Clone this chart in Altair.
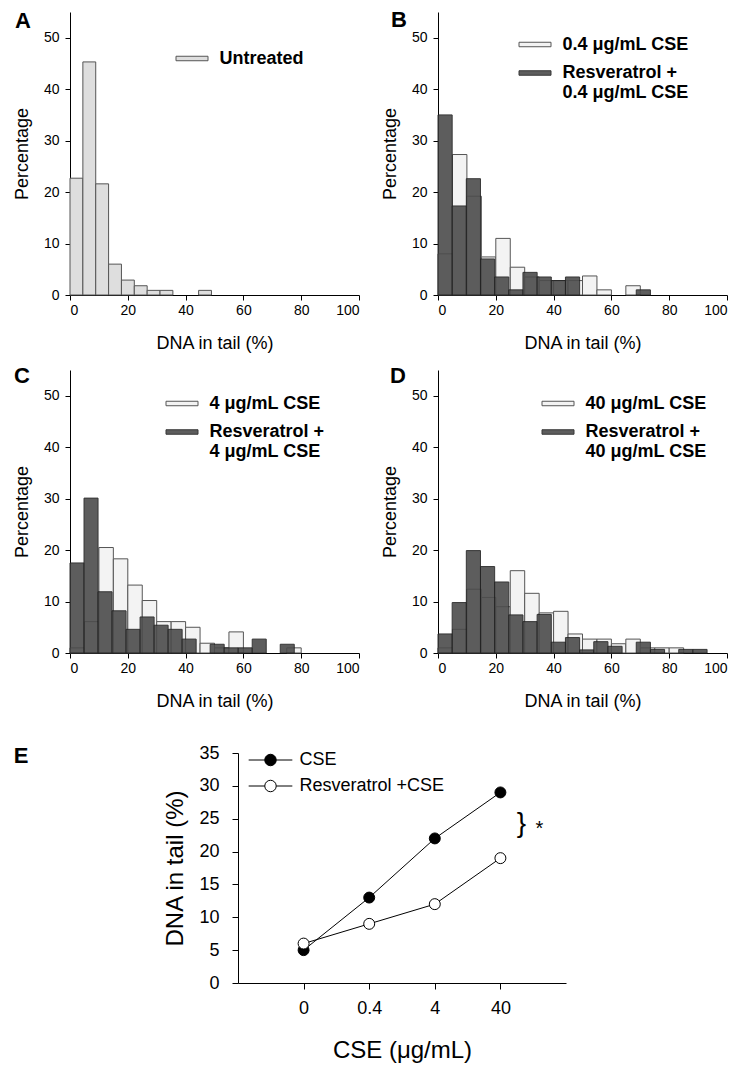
import altair as alt
import pandas as pd

FONT = "Liberation Sans"

# ---------------- data ----------------
# Panel A (untreated), bin width ~4.45 % DNA in tail
a_width = 4.45
a_untreated = [22.7, 45.3, 21.6, 6.0, 2.9, 1.8, 0.9, 0.9, 0, 0, 0.9]

light_width = 5.0
# Panel B
b_light = [8.0, 27.3, 19.2, 7.4, 11.0, 5.4, 3.5, 2.8, 2.8, 2.8, 3.7, 1.0, 0, 1.8]
b_dark = [35.0, 17.3, 22.6, 7.0, 3.5, 1.0, 4.4, 3.5, 2.8, 3.5, 0, 0, 0, 0, 1.0]
b_dark_width = 4.9
# Panel C
c_light = [1.0, 6.1, 20.5, 18.3, 13.2, 10.2, 6.1, 6.1, 5.0, 1.9, 1.0, 4.1, 0, 0, 0, 1.0]
c_dark = [17.5, 30.1, 11.9, 8.2, 4.6, 7.0, 5.4, 4.6, 2.7, 0, 1.7, 1.0, 1.0, 2.7, 0, 1.7]
c_dark_width = 4.85
# Panel D
d_light = [1.0, 4.6, 12.4, 10.8, 9.0, 16.0, 11.6, 7.8, 8.1, 3.7, 2.7, 2.7, 1.8, 2.7, 1.0, 1.0, 1.0]
d_dark = [3.7, 9.8, 19.9, 16.8, 13.8, 7.4, 6.1, 7.5, 2.1, 3.0, 0.6, 2.2, 1.3, 0, 2.1, 0.7, 0, 0.7, 0.7]
d_dark_width = 4.9

# Panel E
doses = ["0", "0.4", "4", "40"]
e_cse = [5, 13, 22, 29]
e_resv = [6, 9, 12, 19]
e_series = ["CSE", "Resveratrol +CSE"]

x_ticks = [0, 20, 40, 60, 80, 100]
y_ticks = [0, 10, 20, 30, 40, 50]
e_y_ticks = [0, 5, 10, 15, 20, 25, 30, 35]

LIGHT_FILL = "#f3f3f3"
DARK_FILL = "#4c4c4c"
UNTREATED_FILL = "#dedede"

W, H = 289, 283


def hist_df(series):
    rows = []
    for name, heights, width in series:
        for i, h in enumerate(heights):
            if h > 0:
                rows.append({"series": name, "lo": i * width, "hi": (i + 1) * width, "pct": h})
    return pd.DataFrame(rows)


def hist_panel(series, fills, strokes, opac, leg_x, leg_y, letter, lx, ly):
    names = [s[0] for s in series]
    df = hist_df(series)
    bars = alt.Chart(df).mark_bar(strokeWidth=1).encode(
        x=alt.X("lo:Q", scale=alt.Scale(domain=[0, 100], nice=False),
                axis=alt.Axis(values=x_ticks, title="DNA in tail (%)", tickSize=5,
                              labelPadding=3, labelFontSize=14, titleFontSize=18,
                              titlePadding=17)),
        x2="hi:Q",
        y=alt.Y("pct:Q", stack=None, scale=alt.Scale(domain=[0, 55], nice=False),
                axis=alt.Axis(values=y_ticks, title="Percentage", tickSize=5,
                              labelPadding=6, labelFontSize=14, titleFontSize=18,
                              titlePadding=12)),
        y2=alt.datum(0),
        fill=alt.Fill("series:N", scale=alt.Scale(domain=names, range=fills),
                      legend=alt.Legend(title=None, orient="none", legendX=leg_x, legendY=leg_y,
                                        symbolType="M-1,-0.14H1V0.14H-1Z", symbolSize=1024,
                                        symbolStrokeColor="#555555", symbolStrokeWidth=1,
                                        labelFont=FONT, labelFontSize=18, labelFontWeight="bold",
                                        labelColor="black", labelOffset=11, rowPadding=2.5,
                                        labelLimit=400,
                                        labelExpr="split(datum.label, '|')")),
        stroke=alt.Stroke("series:N", scale=alt.Scale(domain=names, range=strokes), legend=None),
        opacity=alt.Opacity("series:N", scale=alt.Scale(domain=names, range=opac), legend=None),
    )
    lab = alt.Chart(pd.DataFrame({"t": [letter]})).mark_text(
        font=FONT, fontSize=22, fontWeight="bold", align="center", baseline="middle", color="black"
    ).encode(x=alt.value(lx), y=alt.value(ly), text="t:N")
    return alt.layer(bars, lab).properties(width=W, height=H)


panel_a = hist_panel([("Untreated", a_untreated, a_width)], [UNTREATED_FILL], ["#555555"], [1.0],
                     105.5, 30, "A", -47, 8.5)
panel_b = hist_panel([("0.4 μg/mL CSE", b_light, light_width),
                      ("Resveratrol +|0.4 μg/mL CSE", b_dark, b_dark_width)],
                     [LIGHT_FILL, DARK_FILL], ["#555555", "#222222"], [1.0, 0.9],
                     80.5, 16, "B", -39, 8)
panel_c = hist_panel([("4 μg/mL CSE", c_light, light_width),
                      ("Resveratrol +|4 μg/mL CSE", c_dark, c_dark_width)],
                     [LIGHT_FILL, DARK_FILL], ["#555555", "#222222"], [1.0, 0.9],
                     95.5, 17, "C", -48, 5.6)
panel_d = hist_panel([("40 μg/mL CSE", d_light, light_width),
                      ("Resveratrol +|40 μg/mL CSE", d_dark, d_dark_width)],
                     [LIGHT_FILL, DARK_FILL], ["#555555", "#222222"], [1.0, 0.9],
                     103.5, 17, "D", -40, 5.6)

# ---------------- panel E ----------------
e_rows = []
for name, vals in zip(e_series, [e_cse, e_resv]):
    for d, v in zip(doses, vals):
        e_rows.append({"series": name, "dose": d, "val": v})
e_df = pd.DataFrame(e_rows)

EW, EH = 289, 255
ex = alt.X("dose:O", sort=doses,
           scale=alt.Scale(type="point", domain=doses, range=[168, 496], padding=1),
           axis=alt.Axis(title="CSE (μg/mL)", labelAngle=0, tickSize=6, labelPadding=10,
                         labelFontSize=18, titleFontSize=24, titlePadding=21, titleX=332))
ey = alt.Y("val:Q", scale=alt.Scale(domain=[0, 35], range=[255, 25], nice=False),
           axis=alt.Axis(values=e_y_ticks, title="DNA in tail (%)", offset=-168, tickSize=6,
                         labelPadding=13, labelFontSize=18, titleFontSize=24, titlePadding=11))

e_lines = alt.Chart(e_df).mark_line(color="black", strokeWidth=1).encode(
    x=ex, y=ey, detail="series:N")
e_points = alt.Chart(e_df).mark_point(filled=True, size=120, stroke="black", strokeWidth=1,
                                      opacity=1).encode(
    x=ex, y=ey,
    fill=alt.Fill("series:N", scale=alt.Scale(domain=e_series, range=["black", "white"]),
                  legend=alt.Legend(title=None, orient="none", legendX=191.5, legendY=23,
                                    symbolType="M-3.8,0H-1M1,0H3.8M1,0A1,1,0,1,1,-1,0A1,1,0,1,1,1,0Z",
                                    symbolSize=132, symbolStrokeColor="black", symbolStrokeWidth=1,
                                    labelFont=FONT, labelFontSize=18, labelColor="black",
                                    labelOffset=20, rowPadding=8, labelLimit=400)),
)
sig_df = pd.DataFrame({"dose": ["40"], "val": [24.2], "brace": ["}"], "star": ["*"]})
e_brace = alt.Chart(sig_df).mark_text(font=FONT, fontSize=28, align="center", baseline="middle",
                                      dx=21, color="black").encode(x=ex, y=ey, text="brace:N")
e_star = alt.Chart(sig_df).mark_text(font=FONT, fontSize=20, align="center", baseline="middle",
                                     dx=39, dy=5, color="black").encode(x=ex, y=ey, text="star:N")
e_lab = alt.Chart(pd.DataFrame({"t": ["E"]})).mark_text(
    font=FONT, fontSize=22, fontWeight="bold", align="center", baseline="middle", color="black"
).encode(x=alt.value(-49), y=alt.value(27.5), text="t:N")

panel_e = alt.layer(e_lines, e_points, e_brace, e_star, e_lab).properties(width=EW, height=EH)

chart = alt.concat(
    panel_a, panel_b, panel_c, panel_d, panel_e,
    columns=2, spacing={"row": 75, "column": 79}, bounds="flush",
).resolve_scale(
    fill="independent", stroke="independent", opacity="independent"
).resolve_legend(
    fill="independent"
).properties(
    padding={"left": 5, "top": 1, "right": 10, "bottom": 10}
).configure_view(strokeWidth=0).configure_axis(
    labelFont=FONT, titleFont=FONT, labelColor="black", titleColor="black",
    domainColor="black", tickColor="black", grid=False, titleFontWeight="normal",
    domainWidth=1, tickWidth=1,
).configure_text(font=FONT)

chart.save("out.html", embed_options={"renderer": "svg", "actions": False})
